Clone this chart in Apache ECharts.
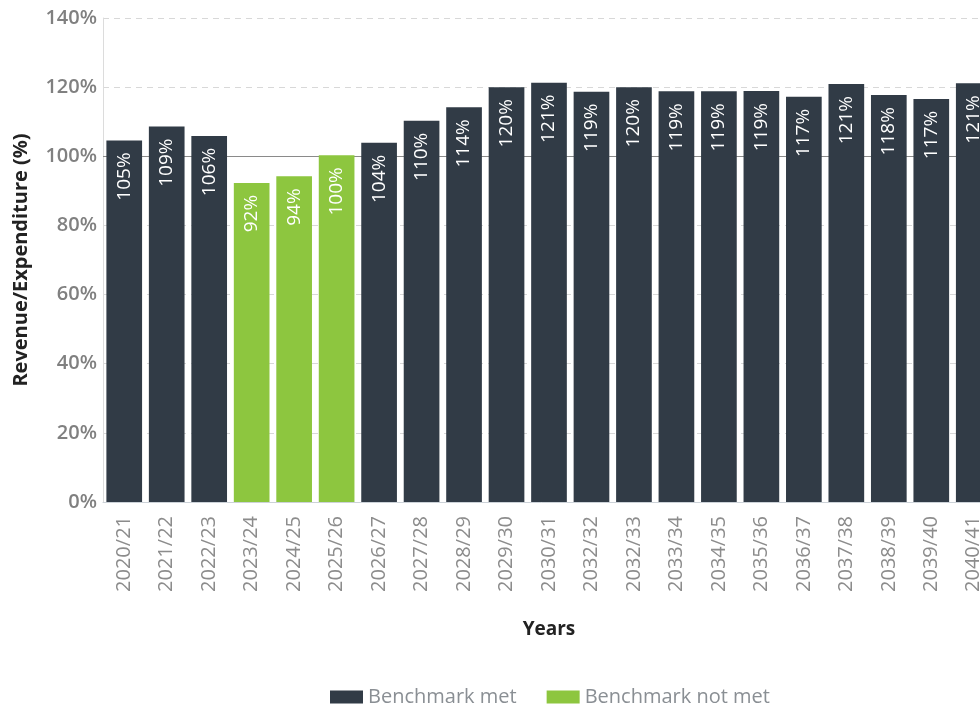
<!DOCTYPE html>
<html lang="en">
<head>
    <meta charset="UTF-8">
    <title>Revenue/Expenditure</title>
    <script src="https://cdn.jsdelivr.net/npm/echarts@6/dist/echarts.min.js"></script>
    <style>
        html, body { margin: 0; padding: 0; background: #fff; }
        #chart { width: 980px; height: 705px; }
    </style>
</head>
<body>
    <div id="chart"></div>
    <script>
        // categories (note: "2032/32" as printed in the source)
        var years = ['2020/21', '2021/22', '2022/23', '2023/24', '2024/25', '2025/26', '2026/27', '2027/28',
            '2028/29', '2029/30', '2030/31', '2032/32', '2032/33', '2033/34', '2034/35', '2035/36',
            '2036/37', '2037/38', '2038/39', '2039/40', '2040/41'];
        // ratio in %, null where the other series holds the bar
        var metValues = [104.6, 108.6, 105.9, null, null, null, 103.9, 110.3, 114.2, 120.0, 121.3,
            118.7, 120.0, 118.8, 118.8, 118.9, 117.2, 120.9, 117.7, 116.6, 121.1];
        var notMetValues = [null, null, null, 92.3, 94.2, 100.3, null, null, null, null, null,
            null, null, null, null, null, null, null, null, null, null];

        var font = '"Open Sans", sans-serif';
        var myChart = echarts.init(document.getElementById('chart'));

        var barLabel = {
            show: true,
            position: 'insideTop',
            rotate: 90,
            align: 'right',
            verticalAlign: 'middle',
            distance: 12,
            color: '#ffffff',
            fontFamily: font,
            fontSize: 19,
            formatter: function (p) { return Math.round(p.value) + '%'; }
        };

        var option = {
            animation: false,
            // the plot runs past the right edge, as in the source
            grid: { left: 103, width: 892, top: 18, bottom: 203, outerBoundsMode: 'none' },
            legend: {
                left: 325,
                top: 682,
                icon: 'rect',
                itemWidth: 33,
                itemHeight: 13,
                itemGap: 30,
                textStyle: { color: '#8a8f94', fontFamily: font, fontSize: 20 },
                data: ['Benchmark met', 'Benchmark not met']
            },
            xAxis: {
                type: 'category',
                data: years,
                name: 'Years',
                nameLocation: 'middle',
                nameGap: 118,
                nameTextStyle: { color: '#222', fontFamily: font, fontSize: 19, fontWeight: 'bold' },
                axisLine: { lineStyle: { color: '#ccd2d8' } },
                axisTick: { show: false },
                axisLabel: { rotate: 90, margin: 14, color: '#8c8c8c', fontFamily: font, fontSize: 20 }
            },
            yAxis: {
                type: 'value',
                min: 0,
                max: 140,
                interval: 20,
                name: 'Revenue/Expenditure (%)',
                nameLocation: 'middle',
                nameGap: 72,
                nameTextStyle: { color: '#222', fontFamily: font, fontSize: 20, fontWeight: 'bold' },
                axisLine: { show: true, lineStyle: { color: '#dcdcdc' } },
                axisTick: { show: false },
                axisLabel: {
                    margin: 6, color: '#808080', fontFamily: font, fontSize: 20, fontWeight: 600,
                    formatter: '{value}%'
                },
                splitLine: { lineStyle: { color: '#d8d8d8', type: [6, 5] } }
            },
            series: [
                {
                    name: 'Benchmark met',
                    type: 'bar',
                    stack: 'all',
                    barCategoryGap: '16%',
                    itemStyle: { color: '#313b46' },
                    label: barLabel,
                    data: metValues,
                    markLine: {
                        silent: true,
                        z: 1,
                        symbol: 'none',
                        label: { show: false },
                        lineStyle: { color: '#8a8a8a', type: 'solid', width: 1.2 },
                        data: [{ yAxis: 100 }]
                    }
                },
                {
                    name: 'Benchmark not met',
                    type: 'bar',
                    stack: 'all',
                    itemStyle: { color: '#8dc63f' },
                    label: barLabel,
                    data: notMetValues
                }
            ]
        };

        myChart.setOption(option);
    </script>
</body>
</html>
